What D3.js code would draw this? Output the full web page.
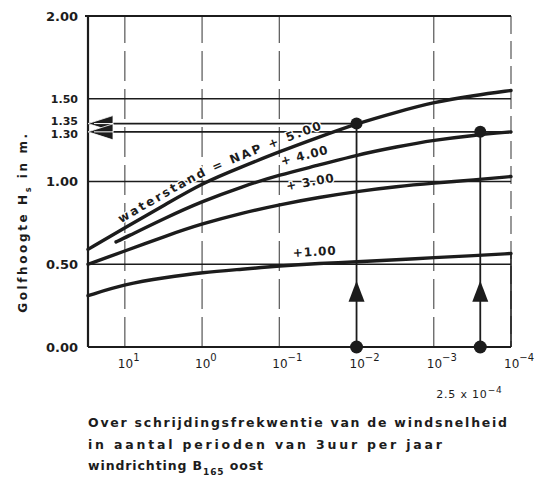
<!DOCTYPE html>
<html><head><meta charset="utf-8">
<script src="https://cdn.jsdelivr.net/npm/d3@7"></script>
<style>
html,body{margin:0;padding:0;background:#fff;}
svg{display:block;font-family:"DejaVu Sans",sans-serif;font-weight:bold;fill:#1c1c1c;}
</style></head>
<body><svg id="c" width="547" height="485"></svg>
<script>
// ---------- data ----------
const freqs = [30, 10, 3, 1, 0.3, 0.1, 0.03, 0.01, 0.003, 0.001, 0.0003, 0.0001];
const h500 = [0.59, 0.72, 0.86, 0.99, 1.09, 1.18, 1.27, 1.35, 1.42, 1.48, 1.52, 1.55];
const h300 = [0.50, 0.58, 0.67, 0.745, 0.81, 0.86, 0.905, 0.94, 0.97, 0.99, 1.01, 1.03];
const h100 = [0.31, 0.38, 0.42, 0.45, 0.47, 0.49, 0.505, 0.515, 0.527, 0.54, 0.552, 0.565];
const freqs400 = [13, 10, 3, 1, 0.3, 0.1, 0.03, 0.01, 0.003, 0.001, 0.0003, 0.0001];
const h400 = [0.635, 0.66, 0.78, 0.88, 0.97, 1.04, 1.10, 1.16, 1.21, 1.25, 1.28, 1.30];
const curveLabels = ["waterstand = NAP + 5.00", "+ 4.00", "+ 3.00", "+1.00"];

const yTickValues = [0.00, 0.50, 1.00, 1.30, 1.35, 1.50, 2.00];
const yGridValues = [0.50, 1.00, 1.50];
const xTickValues = [10, 1, 0.1, 0.01, 0.001, 0.0001];
const xTickExponents = ["1", "0", "\u22121", "\u22122", "\u22123", "\u22124"];
const markFreqs = [0.01, 2.5e-4];
const markHeights = [1.35, 1.30];
const arrowHeight = 0.40;

const yTitle = ["Golfhoogte H", "s", " in m."];
const caption = ["Over schrijdingsfrekwentie van de windsnelheid",
                 "in aantal perioden van 3uur per jaar"];
const caption3 = ["windrichting  B", "165", " oost"];
const extraLabel = ["2.5 x 10", "\u22124"];

// ---------- scales ----------
const svg = d3.select("#c");
const x = d3.scaleLog().domain([30, 1e-4]).range([88, 511]);
const y = d3.scaleLinear().domain([0, 2]).range([347, 16]);
const ink = "#1c1c1c";
const x0 = x.range()[0], x1 = x.range()[1];

// ---------- grid ----------
const g = svg.append("g");
g.selectAll(".vg").data(xTickValues.filter(v => v !== 0.01 && v !== 1e-4)).join("line")
  .attr("x1", d => x(d)).attr("x2", d => x(d)).attr("y1", y(0)).attr("y2", y(2))
  .attr("stroke", "#555").attr("stroke-width", 1.2).attr("stroke-dasharray", "30,8");
g.append("line").attr("x1", x(1e-4)).attr("x2", x(1e-4)).attr("y1", y(2)).attr("y2", y(0))
  .attr("stroke", "#555").attr("stroke-width", 1.2).attr("stroke-dasharray", "18,7");
g.append("line").attr("x1", x(1e-4)).attr("x2", x(1e-4)).attr("y1", y(h100[h100.length-1])).attr("y2", y(0))
  .attr("stroke", ink).attr("stroke-width", 1.6);
g.selectAll(".hg").data(yGridValues).join("line")
  .attr("x1", x0).attr("x2", x1).attr("y1", d => y(d)).attr("y2", d => y(d))
  .attr("stroke", ink).attr("stroke-width", 1.4);
g.append("line").attr("x1", x0 - 3).attr("x2", x1).attr("y1", y(2)).attr("y2", y(2))
  .attr("stroke", ink).attr("stroke-width", 1.8);
g.append("line").attr("x1", x0).attr("x2", x0).attr("y1", y(2)).attr("y2", y(0))
  .attr("stroke", ink).attr("stroke-width", 2.2);
g.append("line").attr("x1", x0).attr("x2", x1).attr("y1", y(0)).attr("y2", y(0))
  .attr("stroke", ink).attr("stroke-width", 2.2);

g.append("line").attr("x1", x0).attr("x2", x(markFreqs[0])).attr("y1", y(markHeights[0])).attr("y2", y(markHeights[0]))
  .attr("stroke", ink).attr("stroke-width", 1.8);
g.append("line").attr("x1", x0).attr("x2", x1).attr("y1", y(markHeights[1])).attr("y2", y(markHeights[1]))
  .attr("stroke", ink).attr("stroke-width", 1.8);
markFreqs.forEach((f, i) => {
  g.append("line").attr("x1", x(f)).attr("x2", x(f)).attr("y1", y(0)).attr("y2", y(markHeights[i]))
    .attr("stroke", ink).attr("stroke-width", 1.8);
});

// ---------- curves ----------
const line = d3.line().x(d => x(d[0])).y(d => y(d[1])).curve(d3.curveBasis);
const series = [
  {f: freqs, h: h500, off: -7, lab: curveLabels[0], start: 121, fs: 12, ls: 2.3},
  {f: freqs400, h: h400, off: -9, lab: curveLabels[1], start: 282, fs: 12, ls: 0.8},
  {f: freqs, h: h300, off: -13, lab: curveLabels[2], start: 287, fs: 12, ls: 0.8},
  {f: freqs, h: h100, off: -8, lab: curveLabels[3], start: 293, fs: 12, ls: 0.8}
];
const defs = svg.append("defs");
const labelLayer = [];
series.forEach((s, i) => {
  const pts = s.f.map((f, j) => [f, s.h[j]]);
  svg.append("path").attr("d", line(pts)).attr("fill", "none")
    .attr("stroke", ink).attr("stroke-width", 3.4).attr("stroke-linecap", "round");
  const offLine = d3.line().x(d => x(d[0])).y(d => y(d[1]) + s.off).curve(d3.curveBasis);
  const p = defs.append("path").attr("id", "lp" + i).attr("d", offLine(pts));
  const node = p.node();
  const total = node.getTotalLength();
  let lo = 0, hi = total;
  for (let k = 0; k < 40; k++) {
    const mid = (lo + hi) / 2;
    if (node.getPointAtLength(mid).x < s.start) lo = mid; else hi = mid;
  }
  labelLayer.push({i, s, lo});
});

// ---------- dots and arrows ----------
markFreqs.forEach((f, i) => {
  svg.append("circle").attr("cx", x(f)).attr("cy", y(markHeights[i])).attr("r", 6).attr("fill", ink);
  svg.append("circle").attr("cx", x(f)).attr("cy", y(0)).attr("r", 6.5).attr("fill", ink);
  const tx = x(f), ty = y(arrowHeight);
  svg.append("path").attr("d", `M${tx},${ty} L${tx - 8},${ty + 21} L${tx + 8},${ty + 21} Z`).attr("fill", ink);
});
markHeights.forEach(h => {
  const ty = y(h);
  svg.append("path").attr("d", `M${x0},${ty} L${x0 + 25},${ty - 8} L${x0 + 25},${ty + 8} Z`)
    .attr("fill", ink).attr("stroke", "#fff").attr("stroke-width", 0.8);
});
markHeights.forEach(h => {
  svg.append("line").attr("x1", x0 + 6).attr("x2", x0 + 25).attr("y1", y(h)).attr("y2", y(h))
    .attr("stroke", "#fff").attr("stroke-width", 1);
});

// curve labels (with a thin white halo that breaks lines beneath them)
labelLayer.forEach(({i, s, lo}) => {
  svg.append("text").attr("font-size", s.fs).attr("letter-spacing", s.ls).attr("fill", ink)
    .attr("stroke", "#fff").attr("stroke-width", 2.5).attr("paint-order", "stroke")
    .append("textPath").attr("href", "#lp" + i).attr("startOffset", lo).text(s.lab);
});

// ---------- y tick labels ----------
svg.selectAll(".yl").data(yTickValues).join("text")
  .attr("x", 78).attr("y", d => y(d))
  .attr("dy", d => d === 1.35 ? "0.15em" : d === 1.30 ? "0.55em" : "0.35em")
  .attr("text-anchor", "end")
  .attr("font-size", d => (d === 1.30 || d === 1.35 || d === 1.50) ? 11 : 13)
  .attr("fill", ink)
  .text(d => d3.format(".2f")(d));

// ---------- x tick labels ----------
xTickValues.forEach((v, i) => {
  const t = svg.append("text").attr("x", x(v) - 7).attr("y", 368).attr("font-size", 12).attr("font-weight", "normal")
    .attr("fill", ink);
  t.append("tspan").text("10");
  t.append("tspan").attr("dy", -7).attr("font-size", 10).text(xTickExponents[i]);
});
{
  const t = svg.append("text").attr("x", x(markFreqs[1]) - 44).attr("y", 398).attr("font-size", 11)
    .attr("letter-spacing", 0.8).attr("font-weight", "normal").attr("fill", ink);
  t.append("tspan").text(extraLabel[0]);
  t.append("tspan").attr("dy", -5).attr("font-size", 9).text(extraLabel[1]);
}

// ---------- y title ----------
{
  const t = svg.append("text").attr("transform", "translate(27,222) rotate(-90)")
    .attr("text-anchor", "middle").attr("font-size", 12).attr("letter-spacing", 2.6).attr("fill", ink);
  t.append("tspan").text(yTitle[0]);
  t.append("tspan").attr("dy", 4).attr("font-size", 8).text(yTitle[1]);
  t.append("tspan").attr("dy", -4).text(yTitle[2]);
}

// ---------- caption ----------
const capW = [419, 354];
caption.forEach((c, i) => {
  svg.append("text").attr("x", 88).attr("y", 427 + i * 22).attr("font-size", 12.5)
    .attr("textLength", capW[i]).attr("lengthAdjust", "spacing").attr("fill", ink).text(c);
});
{
  const t = svg.append("text").attr("x", 88).attr("y", 470).attr("font-size", 12.5)
    .attr("letter-spacing", 0.9).attr("fill", ink);
  t.append("tspan").text(caption3[0]);
  t.append("tspan").attr("dy", 5).attr("font-size", 9).text(caption3[1]);
  t.append("tspan").attr("dy", -5).text(caption3[2]);
}
</script></body></html>
